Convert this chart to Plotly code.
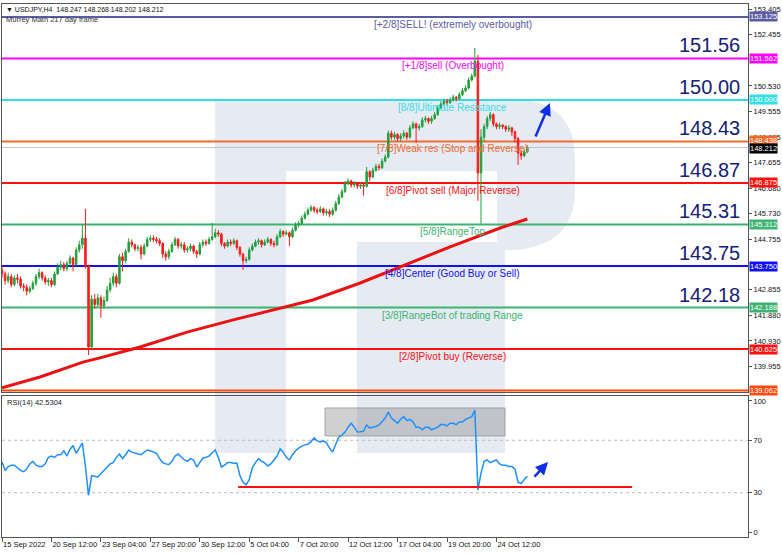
import plotly.graph_objects as go

# ---------------- DATA ----------------
closes = [
    143.45, 143.20, 143.35, 143.05, 143.30, 143.25, 143.00, 142.95, 142.80, 142.90,
    143.10, 143.35, 143.50, 143.30, 143.15, 143.20, 143.05, 143.45, 143.70, 143.80,
    143.65, 143.85, 144.05, 143.80, 144.35, 144.55, 144.80, 143.75, 140.70, 142.50,
    142.30, 142.55, 142.25, 142.45, 142.85, 143.10, 143.35, 143.10, 144.10, 143.95,
    144.30, 144.65, 144.55, 144.40, 144.45, 144.20, 144.50, 144.75, 144.80, 144.75,
    144.70, 144.60, 144.20, 144.10, 144.30, 144.55, 144.75, 144.50, 144.55, 144.35,
    144.40, 144.50, 144.30, 144.20, 144.55, 144.65, 144.60, 144.75, 144.85, 145.00,
    144.95, 144.60, 144.50, 144.65, 144.60, 144.70, 144.45, 144.20, 143.95, 144.00,
    144.35, 144.50, 144.65, 144.70, 144.55, 144.65, 144.75, 144.60, 144.55, 144.85,
    145.05, 144.95, 145.00, 144.85, 145.10, 145.30, 145.35, 145.55, 145.70, 145.85,
    145.95, 145.85, 145.80, 145.90, 145.75, 145.80, 145.70, 145.85, 146.10, 146.35,
    146.55, 146.85, 146.95, 146.80, 146.85, 146.75, 146.80, 146.75, 147.30, 147.10,
    147.35, 147.50, 147.45, 147.70, 147.85, 148.75, 148.60, 148.70, 148.55, 148.65,
    148.75, 148.60, 148.95, 149.10, 148.95, 149.00, 149.25, 149.30, 149.20, 149.30,
    149.45, 149.70, 149.85, 149.95, 149.90, 150.00, 150.10, 150.05, 150.20, 150.35,
    150.45, 150.75, 150.90, 151.45, 147.25, 148.60, 149.00, 149.30, 149.45, 149.10,
    149.00, 149.05, 149.00, 148.90, 148.95, 148.80, 148.55, 148.00, 147.90, 148.05,
    148.212]
first_open = 143.60
highs = [
    143.75, 143.55, 143.50, 143.45, 143.40, 143.45, 143.35, 143.10, 143.05, 143.00,
    143.20, 143.45, 143.65, 143.55, 143.40, 143.30, 143.30, 143.55, 143.85, 143.95,
    143.90, 143.95, 144.15, 144.10, 144.45, 144.70, 145.31, 145.90, 143.80, 142.65,
    142.70, 142.70, 142.65, 142.60, 143.00, 143.30, 143.50, 143.45, 144.20, 144.25,
    144.40, 144.80, 144.75, 144.60, 144.55, 144.55, 144.60, 144.85, 144.90, 144.90,
    144.85, 144.80, 144.65, 144.30, 144.40, 144.65, 144.85, 144.80, 144.65, 144.65,
    144.50, 144.60, 144.55, 144.35, 144.65, 144.75, 144.75, 144.85, 145.37, 145.15,
    145.10, 145.00, 144.65, 144.75, 144.75, 144.80, 144.75, 144.50, 144.25, 144.10,
    144.45, 144.60, 144.75, 144.80, 144.75, 144.75, 144.85, 144.80, 144.70, 144.95,
    145.15, 145.10, 145.10, 145.05, 145.20, 145.40, 145.45, 145.65, 145.80, 145.95,
    146.05, 146.00, 145.95, 146.00, 145.95, 145.90, 145.90, 145.95, 146.20, 146.45,
    146.65, 146.95, 147.05, 147.00, 146.95, 146.90, 146.90, 146.90, 147.48, 147.35,
    147.45, 147.60, 147.60, 147.80, 147.95, 148.85, 148.85, 148.80, 148.75, 148.75,
    148.85, 148.80, 149.05, 149.20, 149.15, 149.10, 149.35, 149.40, 149.35, 149.40,
    149.55, 149.80, 149.95, 150.05, 150.05, 150.10, 150.20, 150.15, 150.30, 150.45,
    150.55, 150.85, 151.00, 151.96, 151.70, 148.90, 149.10, 149.40, 149.55, 149.50,
    149.15, 149.15, 149.10, 149.05, 149.05, 149.00, 148.85, 148.60, 148.10, 148.15,
    148.30]
lows = [
    143.30, 143.05, 143.10, 142.95, 142.98, 143.10, 142.90, 142.80, 142.65, 142.72,
    142.85, 143.00, 143.25, 143.20, 143.05, 143.00, 142.95, 143.00, 143.40, 143.60,
    143.55, 143.55, 143.75, 143.55, 143.75, 144.25, 144.40, 143.65, 140.40, 140.65,
    142.15, 142.20, 141.80, 142.15, 142.40, 142.75, 143.00, 142.95, 143.05, 143.55,
    143.85, 144.25, 144.45, 144.30, 144.30, 144.00, 144.15, 144.45, 144.65, 144.65,
    144.60, 144.50, 144.05, 143.95, 144.00, 144.25, 144.50, 144.40, 144.40, 144.25,
    144.25, 144.30, 144.20, 144.05, 144.15, 144.45, 144.50, 144.55, 144.70, 144.80,
    144.85, 144.50, 144.40, 144.45, 144.50, 144.55, 144.35, 144.10, 143.60, 143.85,
    143.95, 144.30, 144.45, 144.55, 144.45, 144.50, 144.60, 144.50, 144.45, 144.50,
    144.80, 144.85, 144.90, 144.50, 144.80, 145.05, 145.20, 145.30, 145.50, 145.65,
    145.80, 145.75, 145.70, 145.75, 145.65, 145.65, 145.60, 145.65, 145.80, 146.05,
    146.30, 146.50, 146.80, 146.70, 146.70, 146.65, 146.65, 146.40, 146.70, 146.95,
    147.05, 147.30, 147.35, 147.40, 147.65, 147.80, 148.50, 148.50, 148.45, 148.45,
    148.55, 148.50, 148.55, 148.90, 148.38, 148.85, 148.95, 149.15, 149.10, 149.10,
    149.25, 149.40, 149.65, 149.80, 149.80, 149.85, 149.95, 149.95, 150.00, 150.15,
    150.30, 150.40, 150.70, 150.85, 146.20, 145.35, 148.45, 148.90, 149.20, 149.00,
    148.90, 148.90, 148.90, 148.80, 148.80, 148.65, 148.40, 147.55, 147.75, 147.85,
    148.00]

ma_bars = [0, 12.3, 26.2, 31.7, 44.7, 59.9, 74.8, 83.5, 100.6, 115.9, 132.0, 145.0, 161.2, 170]
ma_vals = [139.16, 139.57, 140.13, 140.29, 140.70, 141.26, 141.72, 141.98, 142.47, 143.11,
           143.87, 144.47, 145.18, 145.52]

rsi = [
    53.4, 47, 50, 51, 51, 49, 47, 46, 48, 52,
    54, 51, 50, 50, 52, 57, 58, 57, 59, 59,
    62, 58, 63, 66, 60, 64, 68, 50, 28, 43,
    42.5, 42, 44.5, 47, 50, 52, 53, 57, 59.5, 56,
    59, 62.5, 61, 60, 59.5, 59, 61, 62.6, 62, 61,
    60, 56, 53, 52, 51.5, 54, 58, 59.5, 57, 55,
    54, 56, 55, 49.6, 53, 56.5, 57, 58, 60.5, 62.6,
    57, 49.6, 51, 53, 53, 52.5, 52.7, 43, 38, 36,
    40, 49, 53, 56, 54, 52.7, 50.4, 52, 55, 58,
    63.4, 61, 57, 55, 59, 62, 64, 65.6, 66.5, 67,
    69, 71.8, 69.5, 68.7, 69.5, 68, 64, 61, 67, 72.5,
    74, 76.3, 80, 83, 80, 76.3, 76.5, 77, 81.7, 79.4,
    80, 80.5, 81.7, 84, 87, 91.6, 87, 85, 83, 86,
    88, 85, 86, 84, 80, 80, 78, 80, 80, 78,
    79, 80, 82, 82, 81, 83, 83, 82, 84, 84,
    86, 87, 88, 93, 32, 45, 54, 55, 53, 54,
    55, 52, 51, 51, 50, 50, 48, 38, 37, 40,
    42.5304]

levels = [153.125, 151.5625, 150.0, 148.4375, 146.875, 145.3125, 143.75, 142.1875, 140.625, 139.0625]
level_names = ["[+2/8]SELL! (extremely overbought)", "[+1/8]sell (Overbought)",
               "[8/8]Ultimate Resistance", "[7/8]Weak res (Stop and Reverse)",
               "[6/8]Pivot sell (Major Reverse)", "[5/8]RangeTop",
               "[4/8]Center (Good Buy or Sell)", "[3/8]RangeBot of trading Range",
               "[2/8]Pivot buy (Reverse)", ""]
level_axis_labels = ["153.125", "151.562", "150.000", "148.438", "146.875", "145.312",
                     "143.750", "142.188", "140.625", "139.062"]
big_labels = ["", "151.56", "150.00", "148.43", "146.87", "145.31", "143.75", "142.18", "", ""]
level_colors = ["#5b5ba6", "#ff00ff", "#30e0e6", "#f26a2e", "#ff1010", "#3cb371",
                "#1010ff", "#3cb371", "#ff1010", "#ff4a10"]
current_price = 148.212

price_ticks = [153.405, 152.455, 150.530, 149.555, 148.605, 147.655, 146.680,
               145.730, 144.755, 142.855, 141.880, 140.930, 139.955]
x_tick_bars = [0, 16, 32, 48, 64, 80, 96, 112, 128, 144, 160]
x_tick_text = ["15 Sep 2022", "20 Sep 12:00", "23 Sep 04:00", "27 Sep 20:00", "30 Sep 12:00",
               "5 Oct 04:00", "7 Oct 20:00", "12 Oct 12:00", "17 Oct 04:00", "19 Oct 20:00",
               "24 Oct 12:00"]
rsi_ticks = [0, 30, 70, 100]

# ---------------- FIGURE ----------------
W, H = 782, 554
ML, MR, MT, MB = 2, 34, 4, 17
def PX(x):
    return (x - ML) / (W - ML - MR)
def PY(y):
    return (H - MB - y) / (H - MT - MB)

bars = list(range(len(closes)))
opens = [first_open] + closes[:-1]
FONT = "Liberation Sans, Arial, sans-serif"

fig = go.Figure()
fig.add_trace(go.Candlestick(
    x=bars, open=opens, high=highs, low=lows, close=closes,
    xaxis="x", yaxis="y", whiskerwidth=0,
    increasing=dict(line=dict(color="#22a03c", width=1), fillcolor="#22a03c"),
    decreasing=dict(line=dict(color="#ff1a1a", width=1), fillcolor="#ff1a1a"),
    showlegend=False, hoverinfo="skip"))
fig.add_trace(go.Scatter(x=ma_bars, y=ma_vals, mode="lines", xaxis="x", yaxis="y",
                         line=dict(color="#ee1111", width=3), showlegend=False, hoverinfo="skip"))
fig.add_trace(go.Scatter(x=bars, y=rsi, mode="lines", xaxis="x2", yaxis="y2",
                         line=dict(color="#1e90ff", width=1.5), showlegend=False, hoverinfo="skip"))

shapes = []
WM = "#e6ebf3"
path = (f"M {PX(215)},{PY(100)} L {PX(515)},{PY(100)} Q {PX(575)},{PY(100)} {PX(575)},{PY(160)} "
        f"L {PX(575)},{PY(190)} Q {PX(575)},{PY(245)} {PX(515)},{PY(250)} L {PX(505)},{PY(250)} "
        f"L {PX(505)},{PY(453)} L {PX(215)},{PY(453)} Z")
shapes.append(dict(type="path", path=path, xref="paper", yref="paper", fillcolor=WM,
                   line=dict(width=0), layer="below"))
for (x0, y0, x1, y1) in [(286, 171, 497, 242), (286, 242, 357, 453)]:
    shapes.append(dict(type="rect", xref="paper", yref="paper", x0=PX(x0), x1=PX(x1),
                       y0=PY(y1), y1=PY(y0), fillcolor="white", line=dict(width=0), layer="below"))

# current price line
shapes.append(dict(type="line", xref="x domain", yref="y", x0=0, x1=1, y0=current_price,
                   y1=current_price, line=dict(color="#c4c4c4", width=1), layer="below"))
for lv, col in zip(levels, level_colors):
    shapes.append(dict(type="line", xref="x domain", yref="y", x0=0, x1=1, y0=lv, y1=lv,
                       line=dict(color=col, width=2), layer="below"))

# RSI levels
for v in [70, 30]:
    shapes.append(dict(type="line", xref="x2 domain", yref="y2", x0=0, x1=1, y0=v, y1=v,
                       line=dict(color="#bbbbbb", width=1, dash="dot"), layer="below"))
shapes.append(dict(type="rect", xref="x2", yref="y2", x0=104.5, x1=162.8, y0=73.3, y1=94.7,
                   fillcolor="rgba(120,120,120,0.35)", line=dict(color="rgba(110,110,110,0.5)", width=1),
                   layer="below"))
shapes.append(dict(type="line", xref="x2", yref="y2", x0=76.4, x1=203.9, y0=34.4, y1=34.4,
                   line=dict(color="#ff1010", width=2)))

annotations = []
for lv, nm, col in zip(levels, level_names, level_colors):
    if nm:
        annotations.append(dict(text=nm, xref="paper", x=PX(453), xanchor="center",
                                yref="y", y=lv, yanchor="top", yshift=0, showarrow=False,
                                font=dict(family=FONT, size=10, color=col)))
for lv, bl in zip(levels, big_labels):
    if bl:
        annotations.append(dict(text=bl, xref="paper", x=PX(742), xanchor="right",
                                yref="y", y=lv, yanchor="bottom", yshift=0, showarrow=False,
                                font=dict(family=FONT, size=20, color="#14207a")))
box_items = list(zip(levels, level_axis_labels, level_colors)) + [(current_price, "148.212", "#000000")]
for lv, lab, col in box_items:
    ys = 1 if lab == "148.438" else (-1.5 if lab == "148.212" else 0)
    annotations.append(dict(text=lab, xref="paper", x=1, xanchor="left", xshift=1,
                            yref="y", y=lv, yanchor="middle", yshift=ys, showarrow=False,
                            bgcolor=col, borderpad=0,
                            font=dict(family=FONT, size=7.5, color="white")))
annotations.append(dict(text="\u25bc USDJPY,H4\u00a0 148.247 148.268 148.202 148.212",
                        xref="paper", yref="paper", x=PX(4), y=PY(9), xanchor="left",
                        yanchor="middle", showarrow=False,
                        font=dict(family=FONT, size=7, color="#111111")))
annotations.append(dict(text="Murrey Math 217 day frame", xref="paper", yref="paper",
                        x=PX(4), y=PY(19.5), xanchor="left", yanchor="middle", showarrow=False,
                        font=dict(family=FONT, size=7.5, color="#333333")))
annotations.append(dict(text="RSI(14) 42.5304", xref="paper", yref="paper",
                        x=PX(5), y=PY(402), xanchor="left", yanchor="middle", showarrow=False,
                        font=dict(family=FONT, size=7.5, color="#222222")))
# blue arrows
annotations.append(dict(x=177.3, y=149.89, xref="x", yref="y", ax=-15, ay=35, text="",
                        showarrow=True, arrowhead=2, arrowsize=1, arrowwidth=2.5,
                        arrowcolor="#1030e6"))
annotations.append(dict(x=176.7, y=53.4, xref="x2", yref="y2", ax=-15, ay=16, text="",
                        showarrow=True, arrowhead=2, arrowsize=1, arrowwidth=2.5,
                        arrowcolor="#1030e6"))

axis_common = dict(showgrid=False, zeroline=False, showline=True, mirror=True,
                   linecolor="#555555", linewidth=1, automargin=False)
xr = [0.0, 241.4]
fig.update_layout(
    width=W, height=H,
    margin=dict(l=ML, r=MR, t=MT, b=MB, autoexpand=False),
    paper_bgcolor="white", plot_bgcolor="rgba(0,0,0,0)",
    showlegend=False,
    xaxis=dict(domain=[0, 1], anchor="y", range=xr, showticklabels=False, ticks="",
               rangeslider=dict(visible=False), **axis_common),
    yaxis=dict(domain=[PY(392), 1], anchor="x", side="right", range=[139.006, 153.614],
               tickvals=price_ticks, ticktext=[f"{v:.3f}" for v in price_ticks],
               ticks="outside", ticklen=3, tickcolor="#555555",
               tickfont=dict(family=FONT, size=7.5, color="#111111"), **axis_common),
    xaxis2=dict(domain=[0, 1], anchor="y2", matches="x", range=xr,
                tickvals=x_tick_bars, ticktext=x_tick_text, ticks="outside", ticklen=4,
                tickcolor="#555555", ticklabelposition="outside right", tickangle=0,
                tickfont=dict(family=FONT, size=7.5, color="#111111"),
                rangeslider=dict(visible=False), **axis_common),
    yaxis2=dict(domain=[0, PY(396)], anchor="x2", side="right", range=[-3.8, 103.8],
                tickvals=rsi_ticks, ticktext=[str(v) for v in rsi_ticks],
                ticks="outside", ticklen=3, tickcolor="#555555",
                tickfont=dict(family=FONT, size=7.5, color="#111111"), **axis_common),
    shapes=shapes, annotations=annotations,
)

fig.write_html("out.html", config={"displayModeBar": False},
               post_script="document.body.style.margin='0';document.body.style.padding='0';")
